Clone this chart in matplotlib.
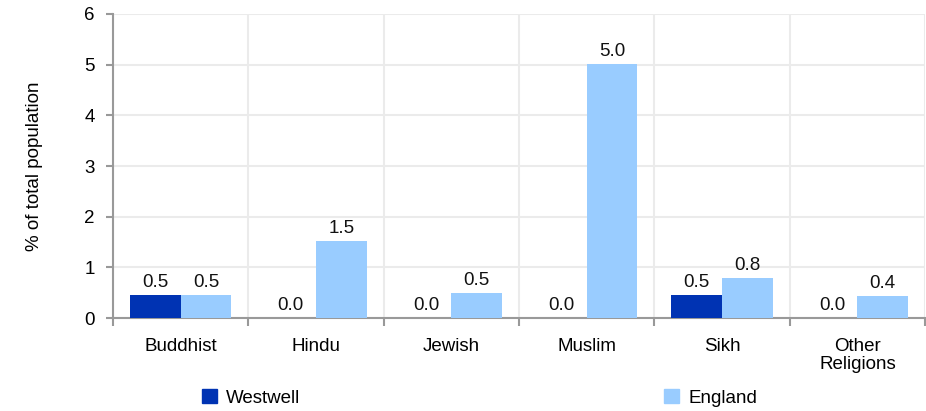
import numpy as np
import matplotlib
matplotlib.use("Agg")
import matplotlib.pyplot as plt
from matplotlib.patches import Patch

plt.rcParams['font.family'] = ['Liberation Sans', 'DejaVu Sans']

categories = ["Buddhist", "Hindu", "Jewish", "Muslim", "Sikh", "Other\nReligions"]
westwell = [0.46, 0.0, 0.0, 0.0, 0.46, 0.0]
england = [0.46, 1.52, 0.49, 5.01, 0.79, 0.43]

C_WEST = "#0033B3"
C_ENG = "#99CCFF"
GRID = "#EBEBEB"
AXIS = "#999999"
FS = 13.5

fig = plt.figure(figsize=(9.26, 4.11), dpi=100)
ax = fig.add_axes([0.122, 0.226, 0.877, 0.740])

x = np.arange(len(categories))
w = 0.375
b1 = ax.bar(x - w / 2, westwell, w, color=C_WEST, zorder=3)
b2 = ax.bar(x + w / 2, england, w, color=C_ENG, zorder=3)

for bars, vals in [(b1, westwell), (b2, england)]:
    for r, v in zip(bars, vals):
        ax.annotate(f"{v:.1f}", xy=(r.get_x() + r.get_width() / 2, v),
                    xytext=(0, 3), textcoords="offset points",
                    ha="center", va="bottom", fontsize=FS, color="#111111")

ax.set_xlim(-0.5, len(categories) - 0.5)
ax.set_ylim(0, 6)
ax.set_yticks(range(0, 7))

# category boundaries as major ticks, labels on minor ticks
ax.set_xticks(np.arange(-0.5, len(categories), 1.0))
ax.set_xticklabels([])
ax.set_xticks(x, minor=True)
ax.set_xticklabels(categories, minor=True, fontsize=FS, linespacing=1.1)
ax.tick_params(axis="x", which="major", length=6, width=1.5, color=AXIS, direction="out")
ax.tick_params(axis="x", which="minor", length=0, pad=14)
ax.tick_params(axis="y", length=5, width=1.5, color=AXIS, labelsize=FS, pad=8)

ax.grid(True, which="major", color=GRID, lw=1.5, zorder=0)
ax.set_axisbelow(True)

for s in ["top", "right"]:
    ax.spines[s].set_visible(False)
for s in ["left", "bottom"]:
    ax.spines[s].set_color(AXIS)
    ax.spines[s].set_linewidth(1.5)

ax.set_ylabel("% of total population", fontsize=FS, labelpad=30)

handles = [Patch(color=C_WEST, label="Westwell"), Patch(color=C_ENG, label="England")]
fig.legend(handles=handles, loc="center", bbox_to_anchor=(0.518, 0.032), ncol=2,
           frameon=False, fontsize=FS, handlelength=0.8, handleheight=0.8,
           handletextpad=0.5, columnspacing=19.4)

plt.savefig("out.png", dpi=100)
